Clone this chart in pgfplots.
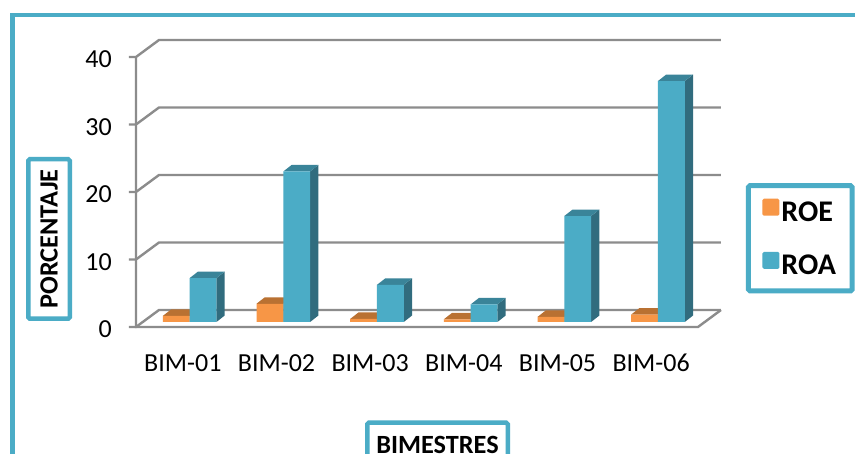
\documentclass[border=0pt]{standalone}
\usepackage{pgfplots}
\usepackage{pgfplotstable}
\pgfplotsset{compat=1.18}
\usepackage{fontspec}
\setmainfont{Carlito}
\definecolor{roefront}{HTML}{F79646}
\definecolor{roetop}{HTML}{B97132}
\definecolor{roaside}{HTML}{316C7E}
\definecolor{roatop}{HTML}{3A8499}
\definecolor{roafront}{HTML}{4BACC6}
\definecolor{wall}{HTML}{8C8C8C}

% Bimonthly returns, in percent
\pgfplotstableread{
idx roe roa
0 0.9 6.5
1 2.7 22.3
2 0.45 5.5
3 0.4 2.6
4 0.75 15.7
5 1.1 35.7
}\returns

% Depth of the chart box and of a bar, in axis units
\def\wallx{0.2455}
\def\wally{2.52}
\def\depthx{0.0886}
\def\depthy{0.963}
\def\barw{0.2861}

% Top and side faces of one series: #1 column, #2 left edge relative to the category, #3 top colour, #4 side colour
\newcommand\barfaces[4]{%
  \pgfplotsinvokeforeach{0,...,5}{%
    \pgfplotstablegetelem{##1}{#1}\of\returns
    \pgfmathsetmacro\v{\pgfplotsretval}%
    \pgfmathsetmacro\xa{##1+#2}%
    \pgfmathsetmacro\xb{\xa+\barw}%
    \pgfmathsetmacro\xc{\xa+\depthx}%
    \pgfmathsetmacro\xd{\xb+\depthx}%
    \pgfmathsetmacro\vd{\v+\depthy}%
    \addplot[forget plot,draw=none,fill=#4,yshift=5pt] coordinates {(\xb,0) (\xd,\depthy) (\xd,\vd) (\xb,\v)} --cycle;
    \addplot[forget plot,draw=none,fill=#3,yshift=5pt] coordinates {(\xa,\v) (\xb,\v) (\xd,\vd) (\xc,\vd)} --cycle;
  }%
}

\pgfplotsset{
  roe legend/.style={legend image code/.code={\fill[roefront] (0pt,-8.5pt) rectangle (17pt,8.5pt);}},
  roa legend/.style={legend image code/.code={\fill[roafront] (0pt,-8.5pt) rectangle (17pt,8.5pt);}},
}

\begin{document}
\begin{tikzpicture}[x=1pt,y=1pt]
\useasboundingbox (0,0) rectangle (855,454);
\clip (0,0) rectangle (855,454);
\fill[white] (0,0) rectangle (855,454);
% Outer chart frame
\draw[roafront,line width=4.5pt] (12.5,-5) -- (12.5,439) -- (860,439);
\begin{axis}[
  at={(136pt,127pt)},anchor=south west,
  scale only axis,width=562pt,height=270pt,
  xmin=-0.5,xmax=5.5,ymin=0,ymax=40,
  clip=false,
  axis line style={draw=none},
  major tick length=0pt,
  xtick={0,...,5},
  xticklabels={BIM-01,BIM-02,BIM-03,BIM-04,BIM-05,BIM-06},
  ytick={0,10,20,30,40},
  /pgf/number format/assume math mode=true,
  ticklabel style={font=\fontsize{26}{30}\selectfont,text=black,inner sep=0pt},
  yticklabel style={anchor=east,xshift=-24pt,yshift=-2.5pt},
  xticklabel style={anchor=north,yshift=-28pt,text height=16.5pt,text depth=0pt},
  xlabel={BIMESTRES},
  ylabel={PORCENTAJE},
  xlabel style={at={(axis description cs:0.5365,-0.437)},anchor=center,
    font=\fontsize{26.3}{30}\selectfont\bfseries,draw=roafront,line width=4.5pt,
    rounded corners=1.5pt,inner sep=0pt,minimum width=140.5pt,minimum height=44.5pt},
  ylabel style={at={(axis description cs:-0.1548,0.326)},anchor=center,rotate=0,
    font=\fontsize{26.3}{30}\selectfont\bfseries,draw=roafront,line width=4.5pt,
    rounded corners=1.5pt,inner sep=0pt,minimum width=159.5pt,minimum height=41.5pt},
  legend style={at={(axis description cs:1.182,0.3285)},anchor=center,
    draw=roafront,line width=5pt,rounded corners=1.5pt,
    font=\fontsize{30}{32}\selectfont\bfseries,
    inner xsep=14pt,inner ysep=13pt,
    /tikz/every even column/.style={column sep=7pt},
    row sep=27pt},
  legend cell align=left,
]
% Chart box: side wall, back wall lines and floor
\pgfplotsinvokeforeach{0,10,20,30,40}{
  \pgfmathsetmacro\backy{#1+\wally}
  \addplot[forget plot,wall,line width=2.4pt] coordinates {(-0.575,#1) (-0.5,#1) (-0.2545,\backy) (5.7455,\backy)};
}
\addplot[forget plot,wall,line width=2.4pt] coordinates {(-0.5,40) (-0.5,0) (5.5,0) (5.7455,\wally)};

% ROE bars
\barfaces{roe}{-0.2135}{roetop}{roetop}
\addplot[ybar,roe legend,draw=none,fill=roefront,bar width=26.8pt,bar shift=-6.6pt,yshift=5pt]
  table[x=idx,y=roe]{\returns};
\addlegendentry{ROE}
% ROA bars
\barfaces{roa}{0.0726}{roatop}{roaside}
\addplot[ybar,roa legend,draw=none,fill=roafront,bar width=26.8pt,bar shift=20.2pt,yshift=5pt]
  table[x=idx,y=roa]{\returns};
\addlegendentry{ROA}
\end{axis}
\end{tikzpicture}
\end{document}
